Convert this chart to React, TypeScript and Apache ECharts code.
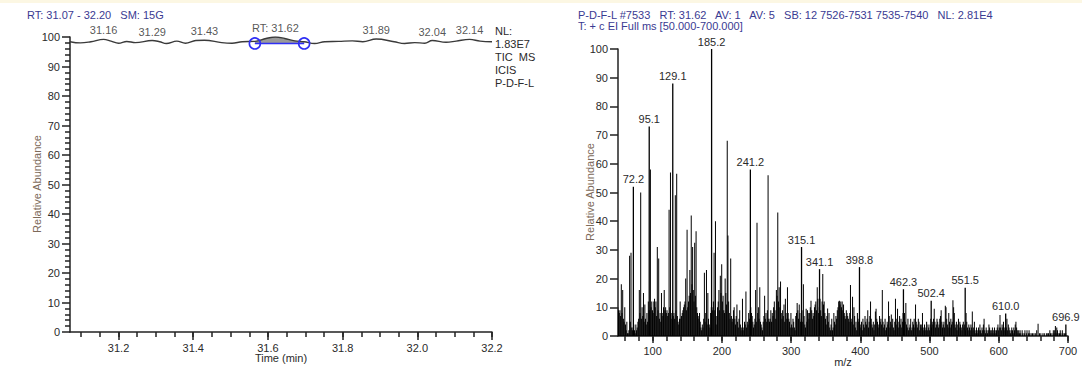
import React, { useEffect, useRef } from "react";
import * as echarts from "echarts";

// ---------- Left: TIC chromatogram ----------
const ticTimes = [
  31.07, 31.098, 31.126, 31.16, 31.18, 31.2, 31.222, 31.245, 31.29, 31.31,
  31.328, 31.356, 31.379, 31.407, 31.43, 31.476, 31.504, 31.531, 31.565, 31.595,
  31.62, 31.645, 31.672, 31.697, 31.725, 31.752, 31.789, 31.826, 31.854, 31.89,
  31.938, 31.966, 31.993, 32.02, 32.04, 32.077, 32.104, 32.14, 32.168, 32.2,
];
const ticValues = [
  98.4, 98.0, 98.4, 99.2, 98.6, 97.9, 98.5, 98.1, 98.8, 98.4,
  97.8, 98.6, 97.9, 98.8, 98.9, 98.1, 97.9, 98.4, 98.5, 99.5,
  100, 99.5, 98.7, 98.4, 97.8, 98.4, 98.5, 98.7, 98.4, 99.3,
  98.4, 97.8, 98.1, 97.9, 98.8, 98.2, 98.6, 99.2, 98.6, 98.4,
];
const ticLabelTimes = [31.16, 31.29, 31.43, 31.62, 31.89, 32.04, 32.14];
const ticLabelTexts = ["31.16", "31.29", "31.43", "RT: 31.62", "31.89", "32.04", "32.14"];
const integrationStart = 31.565;
const integrationEnd = 31.697;
const integrationBase = 97.8;
const timeMajorTicks = [31.2, 31.4, 31.6, 31.8, 32.0, 32.2];
const timeMinorTicks = [
  31.1, 31.15, 31.2, 31.25, 31.3, 31.35, 31.4, 31.45, 31.5, 31.55, 31.6, 31.65,
  31.7, 31.75, 31.8, 31.85, 31.9, 31.95, 32.0, 32.05, 32.1, 32.15, 32.2,
];
const ticInfoLines = ["NL:", "1.83E7", "TIC  MS", "ICIS", "P-D-F-L"];

// ---------- Right: mass spectrum ----------
const mzStart = 50; // intensities below are for m/z 50, 51, 52, ... 700
const intensities = [
  10, 9, 8, 9, 7, 18, 8, 16, 6, 5,
  10, 4, 2, 5, 1, 1, 2, 28, 5, 29,
  3, 2, 3, 4, 2, 1, 4, 2, 3, 5,
  6, 16, 8, 50, 6, 10, 7, 15, 5, 11,
  6, 4, 8, 5, 12, 9, 9, 58, 10, 12,
  9, 8, 12, 13, 10, 12, 7, 31, 9, 27,
  6, 8, 5, 15, 8, 7, 10, 16, 9, 10,
  8, 9, 7, 8, 44, 10, 57, 8, 6, 9,
  7, 8, 6, 49, 9, 56.5, 7, 5, 4, 6,
  12, 6, 7, 8, 9, 10, 11, 12, 20, 9,
  37, 10, 12, 14, 23, 15, 42, 18, 31, 16,
  12, 32.5, 14, 36.5, 10, 8, 7, 6, 8, 5,
  3, 2, 4, 3, 6, 22, 5, 8, 23, 4,
  15, 6, 4, 3, 8, 10, 10, 9, 12, 29,
  9, 40, 4, 7, 10, 12, 16, 9, 21, 15,
  25, 12, 14, 9, 8, 20, 15, 11, 68, 35,
  12, 8, 6, 27, 7, 5, 6, 9, 10, 6,
  4, 7, 11, 5, 3, 6, 9, 4, 2, 3,
  13, 2, 3, 5, 4, 15.5, 3, 5, 4, 8,
  6, 9, 10, 8, 7, 5, 3, 4, 6, 16,
  5, 39.5, 8, 10, 6, 17, 5, 4, 3, 2,
  5, 7, 14, 6, 8, 5, 9, 56, 6, 5,
  6, 9, 5, 8, 7, 10, 12, 9, 6, 16,
  14, 43, 12, 17, 10, 19, 8, 6, 9, 7,
  11, 5, 13, 8, 6, 17, 8, 6, 5, 3,
  8, 4, 3, 6, 5, 3, 2, 7, 8, 11.5,
  9, 6, 11, 8, 5, 6, 9, 5, 18, 7,
  4, 3, 9.5, 5, 9, 8, 6, 8, 10, 12.3,
  9, 6, 8, 7, 10, 11, 12, 9, 17, 13,
  8, 10, 13, 9, 7, 12, 21.6, 11, 12, 8,
  6, 4, 7, 9.6, 5, 8, 3, 2, 4, 6,
  2, 3, 8, 5, 4, 7, 6, 9, 10, 12,
  12.3, 11, 12, 10, 12, 9, 11, 8, 7, 6,
  9, 8, 7, 6, 5, 8, 17.8, 6, 5, 13.7,
  4, 10, 7, 3, 5, 2, 8, 6, 5, 7,
  4, 3, 5, 2, 6, 4, 3, 7, 5, 4,
  6, 9, 3, 5, 7, 12, 6, 4, 3, 5,
  2, 4, 8.5, 9.5, 6, 5, 3, 4, 7, 5,
  6, 4, 16, 5, 3, 4, 6, 2, 3, 5,
  4, 12, 7, 3, 5, 7.5, 4, 6, 3, 2,
  5, 13, 6, 4, 9.5, 3, 5, 7, 4, 6,
  3, 5, 8, 6, 8, 5, 11.5, 4, 3, 6,
  2, 3, 4, 6, 2, 3, 5, 4, 6, 3,
  11, 5, 4, 3, 6, 5, 2, 4, 3, 4,
  8, 3, 2, 4, 2, 3, 5, 2, 4, 3,
  2, 4, 6, 3, 5, 4, 6, 9.5, 5, 3,
  4, 6, 5, 3, 4, 6, 7, 9, 5, 3,
  4, 5, 3, 10.5, 10, 6, 4, 3, 8, 5,
  3, 6, 4, 5, 12.5, 10, 8, 4, 3, 5,
  2, 4, 6, 3, 5, 4, 3, 2, 4, 5,
  3, 4, 2, 8, 5, 3, 2, 4, 3, 2,
  4, 3, 8.5, 2, 3, 5, 2, 1, 3, 2,
  1, 3, 2, 4, 2, 1, 3, 2, 4, 6,
  2, 1, 3, 2, 1, 2, 4, 3, 2, 1,
  2, 3, 1, 2, 3, 2, 1, 2, 3, 4,
  2, 3, 7.3, 3, 2, 4, 3, 5, 2, 3,
  2, 3, 6, 2, 4, 3, 2, 1, 2, 3,
  2, 1, 3, 2, 4, 5, 3, 2, 1, 2,
  1, 2, 1, 0, 2, 1, 0, 1, 2, 0,
  1, 2, 0, 1, 2, 1, 0, 1, 0, 1,
  0, 1, 0, 1, 0, 2, 0, 4.3, 0, 1,
  0, 1, 0, 0, 1, 0, 1, 0, 0, 1,
  0, 1, 1, 0, 2, 1, 0, 1, 0, 2,
  1, 2, 3.5, 1, 3, 2, 1, 0, 1, 2,
  1, 0, 2, 1, 0, 1, 0, 1, 0, 0,
  0,
];
const labeledMz = [72.2, 95.1, 129.1, 185.2, 241.2, 315.1, 341.1, 398.8, 462.3, 502.4, 551.5, 610.0, 696.9];
const labeledIntensity = [52, 73, 88, 100, 58, 31, 23.3, 24, 16.3, 12.3, 16.8, 7.8, 4];
const mzMajorTicks = [100, 200, 300, 400, 500, 600, 700];
const mzMinorTicks = [
  60, 80, 100, 120, 140, 160, 180, 200, 220, 240, 260, 280, 300, 320, 340, 360, 380,
  400, 420, 440, 460, 480, 500, 520, 540, 560, 580, 600, 620, 640, 660, 680, 700,
];
const specHeaderLines = [
  "P-D-F-L #7533   RT: 31.62   AV: 1   AV: 5   SB: 12 7526-7531 7535-7540   NL: 2.81E4",
  "T: + c EI Full ms [50.000-700.000]",
];

const FONT = "'Liberation Sans', Arial, sans-serif";
const AXIS = "#222";
const TXT = "#2a2a2a";
const BLUE_TXT = "#3a3a92";
const NAME_TXT = "#7d6a5a";

export default function App() {
  const ref = useRef<HTMLDivElement>(null);
  useEffect(() => {
    if (!ref.current) return;
    const chart = echarts.init(ref.current, undefined, { renderer: "svg" });

    const ticData = ticTimes.map((t, i) => [t, ticValues[i]]);
    const areaData = ticData.filter((d) => d[0] >= integrationStart && d[0] <= integrationEnd);
    const ticLabelData = ticLabelTimes.map((t, k) => {
      const i = ticTimes.findIndex((x) => Math.abs(x - t) < 1e-6);
      return { value: [t, ticValues[i]], name: ticLabelTexts[k] };
    });
    const specData = intensities.map((v, i) => [mzStart + i, v]);
    const labeledData = labeledMz.map((m, i) => [m, labeledIntensity[i]]);

    const tickLabelStyle = { fontSize: 11, color: TXT, fontFamily: FONT };

    const option: any = {
      animation: false,
      backgroundColor: "#ffffff",
      grid: [
        { left: 70, top: 37, width: 422, height: 295 },
        { left: 618, top: 49, width: 450, height: 287 },
      ],
      xAxis: [
        {
          type: "value", gridIndex: 0, min: 31.07, max: 32.2, position: "bottom",
          axisLine: { lineStyle: { color: AXIS, width: 1.5 } },
          axisTick: { customValues: timeMajorTicks, length: 8, lineStyle: { color: AXIS, width: 1.5 } },
          axisLabel: { ...tickLabelStyle, customValues: timeMajorTicks, margin: 10, formatter: (v: number) => v.toFixed(1) },
          splitLine: { show: false },
        },
        {
          type: "value", gridIndex: 0, min: 31.07, max: 32.2, position: "bottom",
          axisLine: { show: false },
          axisTick: { customValues: timeMinorTicks, length: 5, lineStyle: { color: AXIS, width: 1.5 } },
          axisLabel: { show: false },
          splitLine: { show: false },
        },
        {
          type: "value", gridIndex: 1, min: 50, max: 700, position: "bottom",
          axisLine: { lineStyle: { color: AXIS, width: 1.5 } },
          axisTick: { customValues: mzMajorTicks, length: 7, lineStyle: { color: AXIS, width: 1.5 } },
          axisLabel: { ...tickLabelStyle, customValues: mzMajorTicks, margin: 9 },
          splitLine: { show: false },
        },
        {
          type: "value", gridIndex: 1, min: 50, max: 700, position: "bottom",
          axisLine: { show: false },
          axisTick: { customValues: mzMinorTicks, length: 5, lineStyle: { color: AXIS, width: 1.5 } },
          axisLabel: { show: false },
          splitLine: { show: false },
        },
      ],
      yAxis: [
        {
          type: "value", gridIndex: 0, min: 0, max: 100, interval: 10,
          axisLine: { show: true, lineStyle: { color: AXIS, width: 1.5 } },
          axisTick: { show: true, length: 8, lineStyle: { color: AXIS, width: 1.5 } },
          minorTick: { show: true, splitNumber: 5, length: 5, lineStyle: { color: AXIS, width: 1.5 } },
          axisLabel: { ...tickLabelStyle, margin: 10 },
          splitLine: { show: false },
        },
        {
          type: "value", gridIndex: 1, min: 0, max: 100, interval: 10,
          axisLine: { show: true, lineStyle: { color: AXIS, width: 1.5 } },
          axisTick: { show: true, length: 8, lineStyle: { color: AXIS, width: 1.5 } },
          axisLabel: { ...tickLabelStyle, margin: 10 },
          splitLine: { show: false },
        },
      ],
      series: [
        {
          type: "line", xAxisIndex: 0, yAxisIndex: 0, data: areaData, smooth: 0.4,
          symbol: "none", lineStyle: { width: 0 },
          areaStyle: { color: "#9a9a9a", origin: integrationBase, opacity: 1 },
          z: 2,
        },
        {
          type: "line", xAxisIndex: 0, yAxisIndex: 0, data: ticData, smooth: 0.4,
          symbol: "none", lineStyle: { color: "#3a3a3a", width: 1.4 },
          z: 3,
        },
        {
          type: "line", xAxisIndex: 0, yAxisIndex: 0,
          data: [[integrationStart, integrationBase], [integrationEnd, integrationBase]],
          symbol: "circle", symbolSize: 11,
          itemStyle: { color: "rgba(0,0,0,0)", borderColor: "#2f2ff5", borderWidth: 1.6 },
          lineStyle: { color: "#2f2ff5", width: 1.6 },
          z: 4,
        },
        {
          type: "scatter", xAxisIndex: 0, yAxisIndex: 0, data: ticLabelData,
          symbolSize: 1, itemStyle: { color: "rgba(0,0,0,0)" },
          label: {
            show: true, position: "top", distance: 3, formatter: (p: any) => p.name,
            fontSize: 11, color: TXT, fontFamily: FONT,
          },
          z: 5,
        },
        {
          type: "bar", xAxisIndex: 2, yAxisIndex: 1, data: specData, barWidth: 1,
          barGap: "-100%", itemStyle: { color: "#000" }, z: 2,
        },
        {
          type: "bar", xAxisIndex: 2, yAxisIndex: 1, data: labeledData, barWidth: 1.3,
          barGap: "-100%", itemStyle: { color: "#000" },
          label: {
            show: true, position: "top", distance: 2,
            formatter: (p: any) => Number(p.value[0]).toFixed(1),
            fontSize: 11, color: TXT, fontFamily: FONT,
          },
          z: 3,
        },
      ],
      graphic: [
        { type: "rect", shape: { x: 0, y: 0, width: 1082, height: 3 }, style: { fill: "#fcf7e3" } },
        {
          type: "text", x: 27, y: 15,
          style: { text: "RT: 31.07 - 32.20   SM: 15G", fill: BLUE_TXT, font: `11px ${FONT}`, verticalAlign: "middle" },
        },
        ...ticInfoLines.map((s, i) => ({
          type: "text", x: 495, y: 31 + i * 13,
          style: { text: s, fill: TXT, font: `11px ${FONT}`, verticalAlign: "middle" },
        })),
        {
          type: "text", x: 37, y: 184, rotation: Math.PI / 2,
          style: { text: "Relative Abundance", fill: NAME_TXT, font: `11px ${FONT}`, align: "center", verticalAlign: "middle" },
        },
        {
          type: "text", x: 281, y: 358,
          style: { text: "Time (min)", fill: TXT, font: `11px ${FONT}`, align: "center", verticalAlign: "middle" },
        },
        ...specHeaderLines.map((s, i) => ({
          type: "text", x: 578, y: 15 + i * 11,
          style: { text: s, fill: BLUE_TXT, font: `11px ${FONT}`, verticalAlign: "middle" },
        })),
        {
          type: "text", x: 590, y: 192, rotation: Math.PI / 2,
          style: { text: "Relative Abundance", fill: NAME_TXT, font: `11px ${FONT}`, align: "center", verticalAlign: "middle" },
        },
        {
          type: "text", x: 843, y: 362,
          style: { text: "m/z", fill: TXT, font: `11px ${FONT}`, align: "center", verticalAlign: "middle" },
        },
      ],
    };
    chart.setOption(option);
    return () => chart.dispose();
  }, []);
  return (
    <div
      ref={ref}
      style={{ position: "fixed", left: 0, top: 0, width: 1082, height: 370, background: "#fff" }}
    />
  );
}
